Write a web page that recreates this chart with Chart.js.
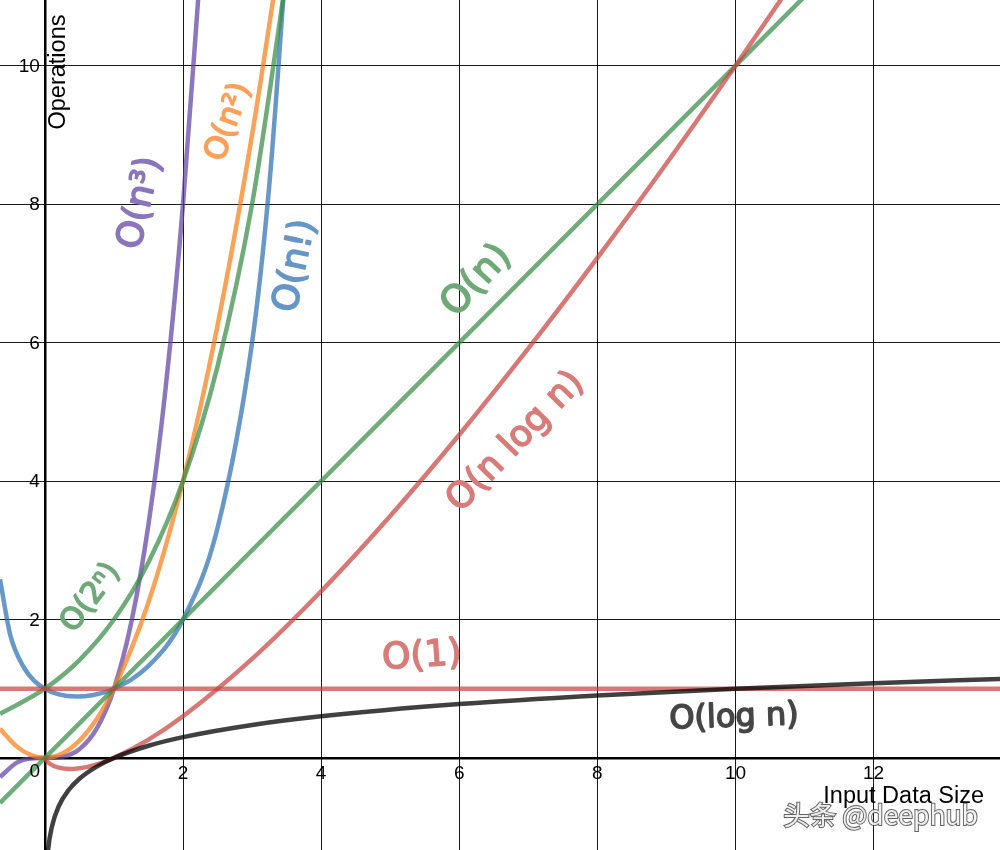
<!DOCTYPE html>
<html>
<head>
<meta charset="utf-8">
<title>Big-O complexity</title>
<script src="https://cdn.jsdelivr.net/npm/chart.js@4/dist/chart.umd.min.js"></script>
<style>
  html, body { margin: 0; padding: 0; background: #fff; }
  #wrap { width: 1000px; height: 850px; }
</style>
</head>
<body>
<div id="wrap"><canvas id="chart" width="1000" height="850"></canvas></div>
<script>
// valeurs (x = taille des données, y = opérations)
const xTicks = [0, 2, 4, 6, 8, 10, 12];
const yTicks = [0, 2, 4, 6, 8, 10];

const constX = [-0.65, 13.83];
const constY = [1, 1];

const logX = [0.02, 0.05, 0.1, 0.2, 0.35, 0.5, 0.75, 1, 1.5, 2, 3, 4, 6, 8, 10, 12, 13.83];
const logY = [-1.7, -1.3, -1.0, -0.7, -0.456, -0.3, -0.125, 0, 0.176, 0.301, 0.477, 0.602, 0.778, 0.903, 1, 1.079, 1.141];

const linX = [-0.65, 13.83];
const linY = [-0.65, 13.83];

const nlogX = [0, 0.03, 0.08, 0.2, 0.37, 0.6, 0.8, 1, 1.5, 2, 3, 4, 5, 6, 7, 8, 9, 10, 11];
const nlogY = [0, -0.046, -0.088, -0.14, -0.16, -0.133, -0.078, 0, 0.264, 0.602, 1.431, 2.408, 3.495, 4.669, 5.916, 7.225, 8.588, 10, 11.455];

const sqX = [-0.65, -0.4, -0.2, 0, 0.25, 0.5, 0.75, 1, 1.5, 2, 2.5, 3, 3.5];
const sqY = [0.42, 0.16, 0.04, 0, 0.063, 0.25, 0.563, 1, 2.25, 4, 6.25, 9, 12.25];

const cubeX = [-0.65, -0.4, -0.2, 0, 0.25, 0.5, 0.75, 1, 1.25, 1.5, 1.75, 2, 2.25];
const cubeY = [-0.275, -0.064, -0.008, 0, 0.016, 0.125, 0.422, 1, 1.953, 3.375, 5.359, 8, 11.39];

const expX = [-0.65, 0, 0.5, 1, 1.5, 2, 2.5, 3, 3.5];
const expY = [0.637, 1, 1.414, 2, 2.828, 4, 5.657, 8, 11.31];

const factX = [-0.65, -0.5, -0.3, -0.15, 0, 0.2, 0.46, 0.7, 1, 1.5, 2, 2.5, 3, 3.25, 3.5];
const factY = [2.58, 1.77, 1.3, 1.11, 1, 0.918, 0.886, 0.909, 1, 1.329, 2, 3.323, 6, 8.285, 11.63];

const pts = (xs, ys) => xs.map((x, i) => ({ x: x, y: ys[i] }));

const RED = 'rgba(199,68,64,0.72)';
const GREEN = 'rgba(56,140,70,0.72)';
const BLUE = 'rgba(45,112,179,0.72)';
const PURPLE = 'rgba(96,66,166,0.72)';
const ORANGE = 'rgba(250,126,25,0.72)';
const BLACK = 'rgba(0,0,0,0.75)';

function serie(label, xs, ys, color) {
  return {
    label: label,
    data: pts(xs, ys),
    borderColor: color,
    borderWidth: 4.5,
    pointRadius: 0,
    cubicInterpolationMode: 'monotone',
    fill: false
  };
}

// annotations manuscrites (pixels) – couleurs opaques équivalentes
const notes = [
  { t: 'O(n³)', x: 141, y: 203, a: -77, s: 36, c: 'rgb(139,117,188)' },
  { t: 'O(n²)', x: 229, y: 122, a: -70, s: 31, c: 'rgb(251,160,89)' },
  { t: 'O(n!)', x: 296, y: 266, a: -78, s: 36, c: 'rgb(103,150,197)' },
  { t: 'O(n)', x: 477, y: 281, a: -47, s: 38, c: 'rgb(111,169,120)' },
  { t: 'O(n log n)', x: 516, y: 442, a: -46, s: 36, c: 'rgb(216,124,121)' },
  { t: 'O(1)', x: 422, y: 657, a: -4, s: 36, c: 'rgb(216,124,121)' },
  { t: 'O(log n)', x: 734, y: 718, a: -2, s: 32, c: 'rgb(70,70,70)' },
  { t: 'O(2ⁿ)', x: 91, y: 598, a: -53, s: 30, c: 'rgb(111,169,120)' }
];

const textes = {
  id: 'textes',
  afterDatasetsDraw(chart) {
    const ctx = chart.ctx;
    const sx = chart.scales.x, sy = chart.scales.y;
    ctx.save();
    notes.forEach(n => {
      ctx.save();
      ctx.translate(n.x, n.y);
      ctx.rotate(n.a * Math.PI / 180);
      ctx.font = n.s + 'px "DejaVu Sans"';
      ctx.fillStyle = n.c;
      ctx.strokeStyle = n.c;
      ctx.lineWidth = 1.6;
      ctx.lineJoin = 'round';
      ctx.textAlign = 'center';
      ctx.textBaseline = 'middle';
      ctx.fillText(n.t, 0, 0);
      ctx.strokeText(n.t, 0, 0);
      ctx.restore();
    });

    // étiquettes des axes façon Desmos
    ctx.fillStyle = '#000';
    ctx.font = '19px "Liberation Sans"';
    ctx.textBaseline = 'middle';
    ctx.textAlign = 'center';
    xTicks.forEach(v => {
      if (v === 0) return;
      ctx.fillText(String(v), sx.getPixelForValue(v), sy.getPixelForValue(0) + 16);
    });
    ctx.fillText('0', sx.getPixelForValue(0) - 10, sy.getPixelForValue(0) + 14);
    ctx.textAlign = 'right';
    yTicks.forEach(v => {
      if (v === 0) return;
      ctx.fillText(String(v), sx.getPixelForValue(0) - 5, sy.getPixelForValue(v) + 1);
    });

    ctx.font = '23.5px "Liberation Sans"';
    ctx.save();
    ctx.translate(sx.getPixelForValue(0) + 14, 72);
    ctx.rotate(-Math.PI / 2);
    ctx.textAlign = 'center';
    ctx.fillText('Operations', 0, 0);
    ctx.restore();

    ctx.textAlign = 'right';
    ctx.textBaseline = 'alphabetic';
    ctx.fillText('Input Data Size', 984, 803);

    // filigrane
    ctx.font = '26.5px "Noto Sans CJK SC"';
    ctx.textBaseline = 'middle';
    ctx.lineWidth = 2;
    ctx.strokeStyle = 'rgba(60,60,60,0.8)';
    ctx.strokeText('头条 @deephub', 978, 815);
    ctx.fillStyle = 'rgba(255,255,255,0.9)';
    ctx.fillText('头条 @deephub', 978, 815);
    ctx.restore();
  }
};

function ticksFixes(values) {
  return scale => { scale.ticks = values.map(v => ({ value: v })); };
}

const grille = {
  color: c => c.tick && c.tick.value === 0 ? '#000' : 'rgba(0,0,0,0.9)',
  lineWidth: c => c.tick && c.tick.value === 0 ? 2.5 : 1,
  drawTicks: false
};

new Chart(document.getElementById('chart'), {
  type: 'line',
  data: {
    datasets: [
      serie('O(log n)', logX, logY, BLACK),
      serie('O(1)', constX, constY, RED),
      serie('O(n log n)', nlogX, nlogY, RED),
      serie('O(n)', linX, linY, GREEN),
      serie('O(2^n)', expX, expY, GREEN),
      serie('O(n!)', factX, factY, BLUE),
      serie('O(n^2)', sqX, sqY, ORANGE),
      serie('O(n^3)', cubeX, cubeY, PURPLE)
    ]
  },
  options: {
    responsive: false,
    animation: false,
    layout: { padding: 0 },
    plugins: { legend: { display: false }, tooltip: { enabled: false } },
    scales: {
      x: {
        type: 'linear', min: -0.65, max: 13.83,
        afterBuildTicks: ticksFixes(xTicks),
        ticks: { display: false },
        border: { display: false },
        grid: grille
      },
      y: {
        type: 'linear', min: -1.33, max: 10.95,
        afterBuildTicks: ticksFixes(yTicks),
        ticks: { display: false },
        border: { display: false },
        grid: grille
      }
    }
  },
  plugins: [textes]
});
</script>
</body>
</html>
